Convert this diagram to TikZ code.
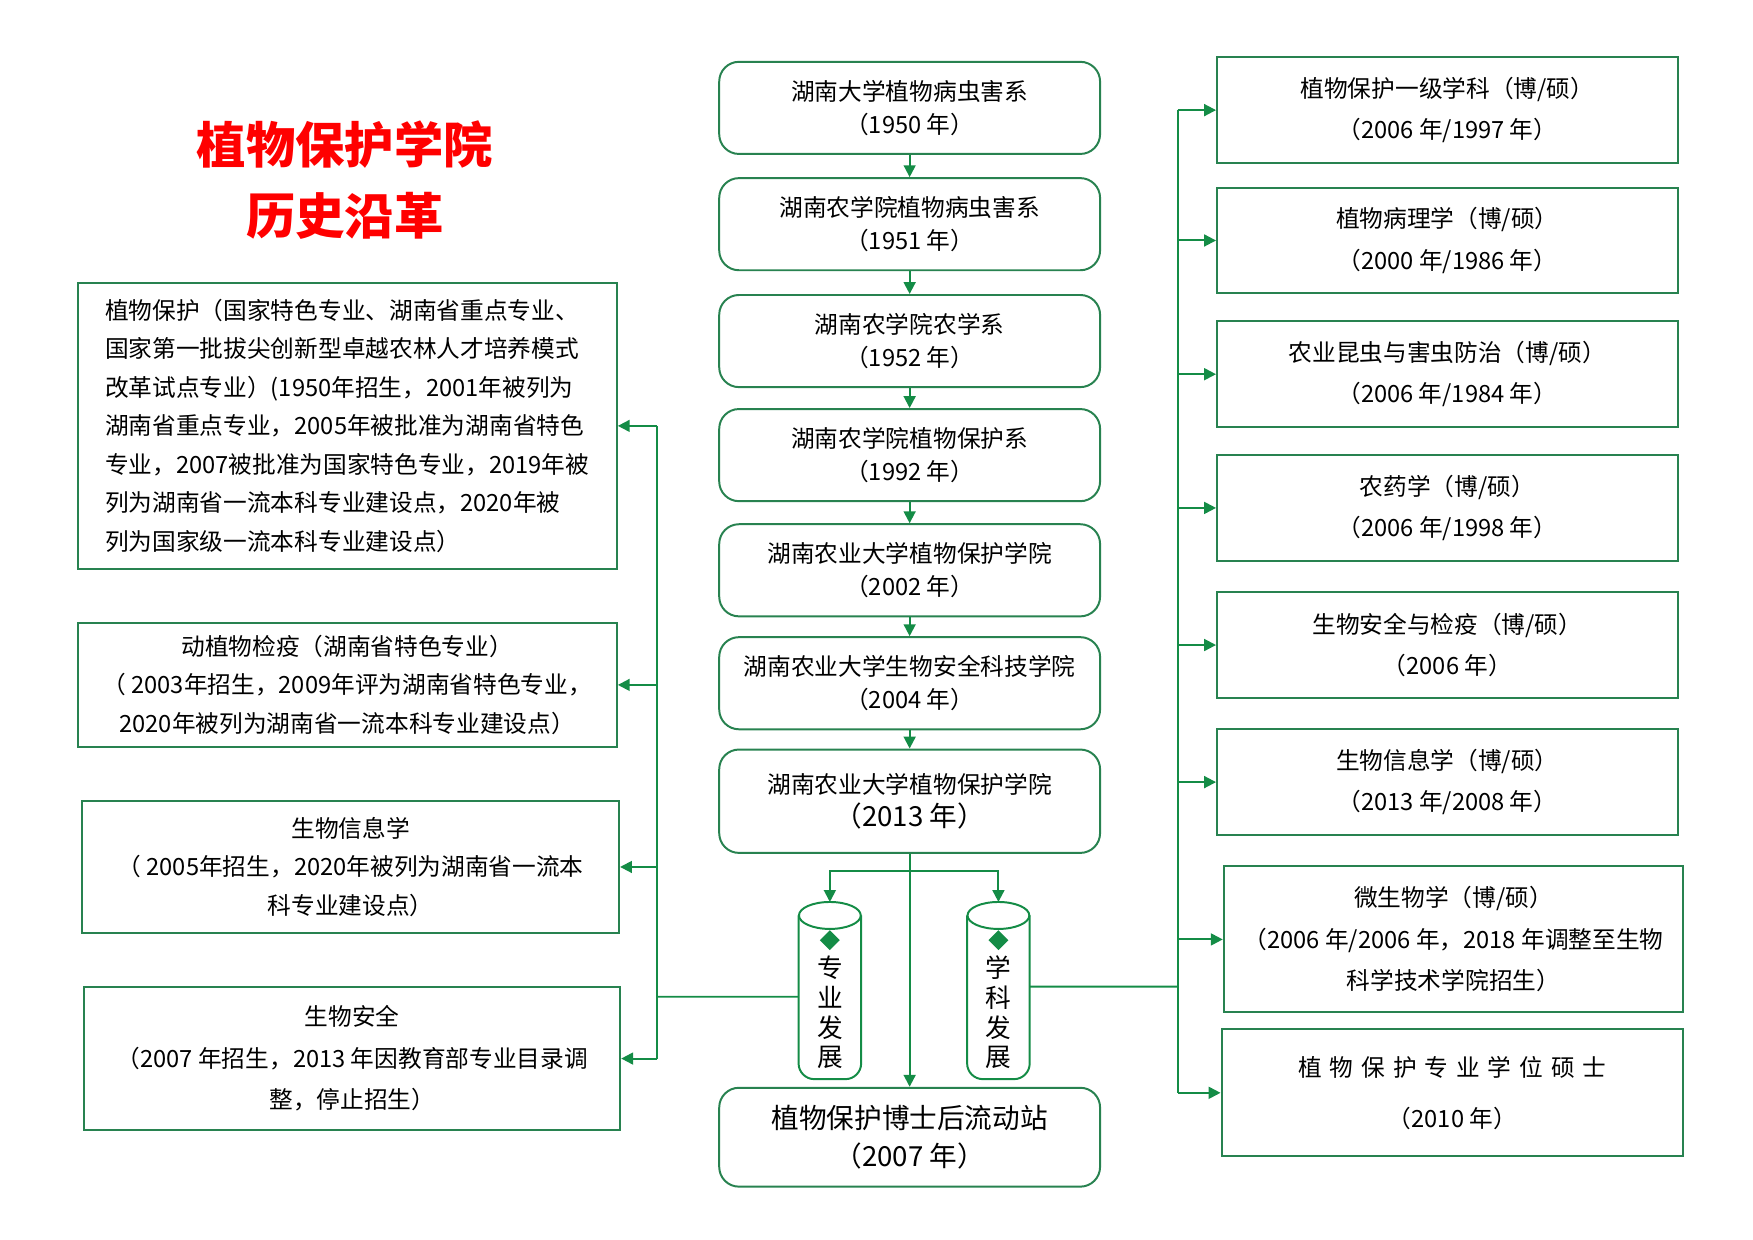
\documentclass[tikz,border=0pt]{standalone}
\usepackage{fontspec}
\setmainfont{Noto Sans CJK SC}
\usetikzlibrary{arrows.meta,shapes.geometric}
\definecolor{gr}{RGB}{20,140,70}
\definecolor{bd}{RGB}{40,130,80}
\begin{document}
\begin{tikzpicture}[x=0.02cm,y=-0.02cm,
 base/.style={draw=bd,line width=1pt,align=center,inner sep=2pt,font=\fontsize{12}{20}\selectfont},
 cbox/.style={base,rounded corners=10pt,minimum width=6.78cm,minimum height=1.64cm,font=\fontsize{12}{17}\selectfont},
 rbox/.style={base,minimum width=8.2cm,minimum height=1.88cm,font=\fontsize{12}{21}\selectfont},
 lbox/.style={base,minimum width=9.6cm,font=\fontsize{12}{19.5}\selectfont},
 gl/.style={draw=gr,line width=1pt},
 arr/.style={gl,-{Triangle[length=6pt,width=6pt]}}]
\useasboundingbox (0,0) rectangle (1560,1103);
\node[font=\fontsize{25}{34}\selectfont\bfseries,text=red,align=center] (title) at (307,160) {植物保护学院\\[2pt]历史沿革};
% centre
\node[cbox] (b1) at (809.5,96) {湖南大学植物病虫害系\\（1950 年）};
\node[cbox] (b2) at (809.5,199.5) {湖南农学院植物病虫害系\\（1951 年）};
\node[cbox] (b3) at (809.5,303.5) {湖南农学院农学系\\（1952 年）};
\node[cbox] (b4) at (809.5,405) {湖南农学院植物保护系\\（1992 年）};
\node[cbox] (b5) at (809.5,507.5) {湖南农业大学植物保护学院\\（2002 年）};
\node[cbox] (b6) at (809.5,608) {湖南农业大学生物安全科技学院\\（2004 年）};
\node[cbox,minimum height=1.84cm] (b7) at (809.5,713) {湖南农业大学植物保护学院\\{\fontsize{14}{20}\selectfont（2013 年）}};
\node[cbox,minimum height=1.76cm,font=\fontsize{14}{19}\selectfont] (b8) at (809.5,1012) {植物保护博士后流动站\\（2007 年）};
\foreach \a/\b in {b1/b2,b2/b3,b3/b4,b4/b5,b5/b6,b6/b7,b7/b8} \draw[arr] (\a) -- (\b);
% cylinders
\node[minimum width=1.1cm,minimum height=3.14cm] (c1) at (738.5,881.5) {};
\node[minimum width=1.1cm,minimum height=3.14cm] (c2) at (888.5,881.5) {};
\foreach \c in {c1,c2}{
 \draw[gl,rounded corners=8pt] ([yshift=-0.24cm]\c.north west) -- (\c.south west) -- (\c.south east) -- ([yshift=-0.24cm]\c.north east);
 \draw[gl,fill=white] ([yshift=-0.24cm]\c.north) ellipse [x radius=0.55cm,y radius=0.24cm];
 \node[diamond,fill=gr,inner sep=0pt,minimum size=0.36cm] at ([yshift=-0.68cm]\c.north) {};
}
\node[font=\fontsize{13}{15}\selectfont,align=center] (t1) at (738.5,901) {专\\业\\发\\展};
\node[font=\fontsize{13}{15}\selectfont,align=center] (t2) at (888.5,901) {学\\科\\发\\展};
\coordinate (br) at (811,775);
\draw[arr] (br) -| (c1.north);
\draw[arr] (br) -| (c2.north);
% left
\node[lbox,align=left,minimum height=5.08cm] (L1) at (309,379) {植物保护（国家特色专业、湖南省重点专业、\\国家第一批拔尖创新型卓越农林人才培养模式\\改革试点专业）(1950年招生，2001年被列为\\湖南省重点专业，2005年被批准为湖南省特色\\专业，2007被批准为国家特色专业，2019年被\\列为湖南省一流本科专业建设点，2020年被\\列为国家级一流本科专业建设点）};
\node[lbox,minimum height=2.22cm] (L2) at (309,609.5) {动植物检疫（湖南省特色专业）\\（ 2003年招生，2009年评为湖南省特色专业，\\2020年被列为湖南省一流本科专业建设点）};
\node[lbox,minimum width=9.56cm,minimum height=2.34cm] (L3) at (312,771.5) {生物信息学\\（ 2005年招生，2020年被列为湖南省一流本\\科专业建设点）};
\node[lbox,minimum width=9.54cm,minimum height=2.56cm,font=\fontsize{12}{21}\selectfont] (L4) at (313.5,942) {生物安全\\（2007 年招生，2013 年因教育部专业目录调\\整，停止招生）};
\coordinate (lt) at (585,887);
\draw[gl] ([yshift=-0.11cm]c1.west) -- (lt);
\draw[gl] (lt |- L1.east) -- (lt |- L4.east);
\foreach \n in {L1,L2,L3,L4} \draw[arr] (lt |- \n.east) -- (\n.east);
% right
\node[rbox] (R1) at (1288,98) {植物保护一级学科（博/硕）\\（2006 年/1997 年）};
\node[rbox] (R2) at (1288,214) {植物病理学（博/硕）\\（2000 年/1986 年）};
\node[rbox] (R3) at (1288,333) {农业昆虫与害虫防治（博/硕）\\（2006 年/1984 年）};
\node[rbox] (R4) at (1288,452) {农药学（博/硕）\\（2006 年/1998 年）};
\node[rbox] (R5) at (1288,574) {生物安全与检疫（博/硕）\\（2006 年）};
\node[rbox] (R6) at (1288,696) {生物信息学（博/硕）\\（2013 年/2008 年）};
\node[rbox,minimum width=8.18cm,minimum height=2.6cm] (R7) at (1293.5,836) {微生物学（博/硕）\\（2006 年/2006 年，2018 年调整至生物\\科学技术学院招生）};
\node[rbox,minimum width=8.22cm,minimum height=2.26cm,font=\fontsize{12}{26}\selectfont] (R8) at (1292.5,972.5) {植\,\,物\,\,保\,\,护\,\,专\,\,业\,\,学\,\,位\,\,硕\,\,士\\（2010 年）};
\coordinate (rt) at (1048,878);
\draw[gl] ([yshift=0.07cm]c2.east) -- (rt);
\draw[gl] (rt |- R1.west) -- (rt |- R8.west);
\foreach \n in {R1,R2,R3,R4,R5,R6,R7,R8} \draw[arr] (rt |- \n.west) -- (\n.west);
\end{tikzpicture}
\end{document}
